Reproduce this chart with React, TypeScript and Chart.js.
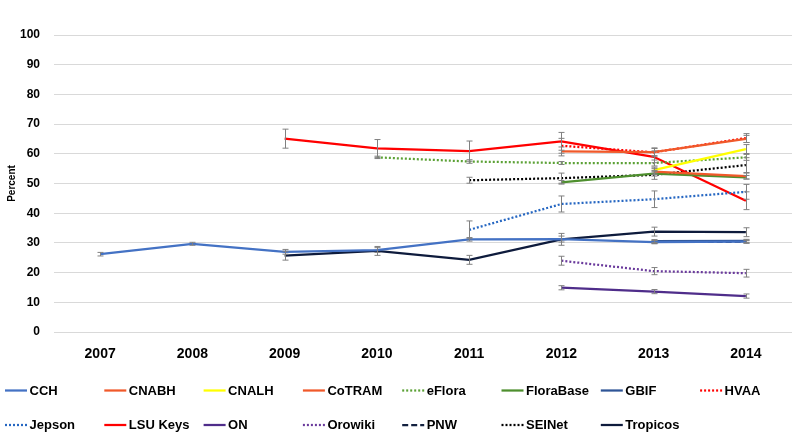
import React, { useEffect, useRef } from "react";
import { Chart, registerables } from "chart.js";

Chart.register(...registerables);

const years = ["2007", "2008", "2009", "2010", "2011", "2012", "2013", "2014"];
const yTicks = [0, 10, 20, 30, 40, 50, 60, 70, 80, 90, 100];

const cch = [26.2, 29.7, 27.0, 27.6, 31.2, 31.3, 30.3, 30.4];
const cchErr = [0.6, 0.5, 0.8, 0.8, 0.6, 1.0, 0.6, 0.5];
const cnabh = [null, null, null, null, null, 60.8, 60.6, 65.0];
const cnabhErr = [null, null, null, null, null, 1.5, 1.2, 1.2];
const cnalh = [null, null, null, null, null, null, 54.5, 61.6];
const cnalhErr = [null, null, null, null, null, null, 1.0, 1.5];
const cotram = [null, null, null, null, null, null, 54.0, 52.5];
const cotramErr = [null, null, null, null, null, null, 1.0, 1.0];
const eflora = [null, null, null, 58.8, 57.4, 56.9, 56.9, 58.8];
const efloraErr = [null, null, null, 0.4, 0.6, 0.5, 1.0, 1.0];
const florabase = [null, null, null, null, null, 50.4, 53.3, 52.1];
const florabaseErr = [null, null, null, null, null, 0.6, 0.8, 0.6];
const gbif = [null, null, null, null, null, null, 30.6, 30.7];
const gbifErr = [null, null, null, null, null, null, 0.5, 0.5];
const hvaa = [null, null, null, null, null, 62.7, 60.5, 65.3];
const hvaaErr = [null, null, null, null, null, 2.5, 1.5, 1.5];
const jepson = [null, null, null, null, 34.4, 43.1, 44.7, 47.2];
const jepsonErr = [null, null, null, null, 3.0, 2.7, 2.8, 2.5];
const lsuKeys = [null, null, 65.1, 61.8, 60.9, 64.2, 59.0, 44.2];
const lsuKeysErr = [null, null, 3.2, 3.0, 3.4, 3.0, 2.0, 3.0];
const on = [null, null, null, null, null, 14.9, 13.6, 12.1];
const onErr = [null, null, null, null, null, 0.7, 0.7, 0.7];
const orowiki = [null, null, null, null, null, 24.0, 20.5, 19.8];
const orowikiErr = [null, null, null, null, null, 1.5, 1.2, 1.3];
const pnw = [null, null, null, null, null, null, 30.3, 30.4];
const pnwErr = [null, null, null, null, null, null, 0.5, 0.5];
const seinet = [null, null, null, null, 51.1, 51.8, 52.9, 56.2];
const seinetErr = [null, null, null, null, 1.0, 1.7, 1.5, 2.5];
const tropicos = [null, null, 25.7, 27.3, 24.3, 31.2, 33.8, 33.6];
const tropicosErr = [null, null, 1.5, 1.5, 1.5, 2.0, 1.5, 1.5];

const DOT = [2, 2];
const DASH = [6, 3];

type S = { label: string; data: (number | null)[]; err: (number | null)[]; color: string; dash: number[] };
const series: S[] = [
  { label: "CCH", data: cch, err: cchErr, color: "#4472C4", dash: [] },
  { label: "CNABH", data: cnabh, err: cnabhErr, color: "#F0592A", dash: [] },
  { label: "CNALH", data: cnalh, err: cnalhErr, color: "#FFFF00", dash: [] },
  { label: "CoTRAM", data: cotram, err: cotramErr, color: "#F0592A", dash: [] },
  { label: "eFlora", data: eflora, err: efloraErr, color: "#5BA135", dash: DOT },
  { label: "FloraBase", data: florabase, err: florabaseErr, color: "#4E8F2E", dash: [] },
  { label: "GBIF", data: gbif, err: gbifErr, color: "#2F5597", dash: [] },
  { label: "HVAA", data: hvaa, err: hvaaErr, color: "#FF0000", dash: DOT },
  { label: "Jepson", data: jepson, err: jepsonErr, color: "#2667C2", dash: DOT },
  { label: "LSU Keys", data: lsuKeys, err: lsuKeysErr, color: "#FF0000", dash: [] },
  { label: "ON", data: on, err: onErr, color: "#4F2D8A", dash: [] },
  { label: "Orowiki", data: orowiki, err: orowikiErr, color: "#6A3A9C", dash: DOT },
  { label: "PNW", data: pnw, err: pnwErr, color: "#13213F", dash: DASH },
  { label: "SEINet", data: seinet, err: seinetErr, color: "#000000", dash: DOT },
  { label: "Tropicos", data: tropicos, err: tropicosErr, color: "#0E1B3C", dash: [] },
];

const errorBarPlugin = {
  id: "errorBars",
  afterDatasetsDraw(chart: any) {
    const ctx = chart.ctx;
    const xs = chart.scales.x;
    const ys = chart.scales.y;
    ctx.save();
    ctx.strokeStyle = "#808080";
    ctx.lineWidth = 1;
    ctx.setLineDash([]);
    series.forEach((s) => {
      s.data.forEach((v, i) => {
        const e = s.err[i];
        if (v == null || e == null) return;
        const x = Math.round(xs.getPixelForValue(i)) + 0.5;
        const y1 = ys.getPixelForValue(v + e);
        const y2 = ys.getPixelForValue(v - e);
        ctx.beginPath();
        ctx.moveTo(x, y1);
        ctx.lineTo(x, y2);
        ctx.moveTo(x - 3, y1);
        ctx.lineTo(x + 3, y1);
        ctx.moveTo(x - 3, y2);
        ctx.lineTo(x + 3, y2);
        ctx.stroke();
      });
    });
    ctx.restore();
  },
};

const legendPlugin = {
  id: "gridLegend",
  afterDraw(chart: any) {
    const ctx = chart.ctx;
    ctx.save();
    ctx.font = "bold 13px 'Liberation Sans', Arial, sans-serif";
    ctx.textBaseline = "middle";
    ctx.fillStyle = "#000";
    series.forEach((s, i) => {
      const col = i % 8;
      const row = Math.floor(i / 8);
      const x = 5 + col * 99.3;
      const y = row === 0 ? 390.5 : 425;
      ctx.strokeStyle = s.color;
      ctx.lineWidth = 2.25;
      ctx.setLineDash(s.dash);
      ctx.beginPath();
      ctx.moveTo(x, y);
      ctx.lineTo(x + 22, y);
      ctx.stroke();
      ctx.setLineDash([]);
      ctx.fillText(s.label, x + 24.5, y + 0.5);
    });
    ctx.restore();
  },
};

export default function App() {
  const ref = useRef<HTMLCanvasElement>(null);
  useEffect(() => {
    document.body.style.margin = "0";
    const chart = new Chart(ref.current as HTMLCanvasElement, {
      type: "line",
      data: {
        labels: years,
        datasets: series.map((s) => ({
          label: s.label,
          data: s.data,
          borderColor: s.color,
          backgroundColor: s.color,
          borderDash: s.dash,
          borderWidth: 2.25,
          pointRadius: 0,
          pointHoverRadius: 0,
          tension: 0,
          spanGaps: false,
          fill: false,
        })),
      },
      options: {
        animation: false,
        responsive: false,
        maintainAspectRatio: false,
        layout: { padding: { left: 1, right: 2, top: 35, bottom: 75 } },
        plugins: { legend: { display: false }, tooltip: { enabled: false } },
        scales: {
          x: {
            offset: true,
            grid: { display: false, drawTicks: false },
            border: { display: false },
            ticks: {
              padding: 14,
              color: "#000",
              font: { family: "'Liberation Sans', Arial, sans-serif", size: 14, weight: "bold" },
            },
            afterFit: (s: any) => {
              s.height = 40;
            },
          },
          y: {
            min: 0,
            max: 100,
            afterBuildTicks: (s: any) => {
              s.ticks = yTicks.map((v) => ({ value: v }));
            },
            grid: { color: "#D9D9D9", lineWidth: 1, drawTicks: false },
            border: { display: false },
            ticks: {
              padding: 14,
              color: "#000",
              font: { family: "'Liberation Sans', Arial, sans-serif", size: 12, weight: "bold" },
            },
            title: {
              display: true,
              text: "Percent",
              color: "#000",
              padding: { top: 5, bottom: 0 },
              font: { family: "'Liberation Sans', Arial, sans-serif", size: 10, weight: "bold" },
            },
            afterFit: (s: any) => {
              s.width = 53;
            },
          },
        },
      } as any,
      plugins: [errorBarPlugin, legendPlugin],
    });
    return () => chart.destroy();
  }, []);
  return (
    <div style={{ position: "fixed", left: 0, top: 0, width: 794, height: 447, background: "#fff" }}>
      <canvas ref={ref} width={794} height={447} style={{ width: 794, height: 447 }} />
    </div>
  );
}
